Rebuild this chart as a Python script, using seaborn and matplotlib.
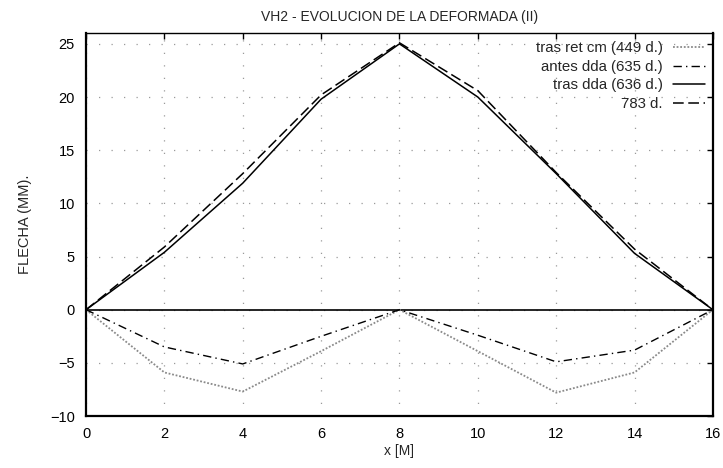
import matplotlib
matplotlib.use("Agg")
import matplotlib.pyplot as plt
import seaborn as sns
import pandas as pd

# Deflection along the beam (m) for each survey
x_m = [0, 2, 4, 6, 8, 10, 12, 14, 16]
tras_ret_cm = [0, -5.9, -7.7, -3.9, 0, -3.9, -7.8, -5.9, 0]
antes_dda = [0, -3.5, -5.1, -2.5, 0, -2.4, -4.9, -3.8, 0]
tras_dda = [0, 5.4, 11.9, 19.8, 25.0, 20.0, 12.8, 5.3, 0]
d783 = [0, 5.9, 12.8, 20.2, 25.1, 20.6, 12.9, 5.7, 0]

labels = ["tras ret cm (449 d.)", "antes dda (635 d.)", "tras dda (636 d.)", "783 d."]
x_ticks = [0, 2, 4, 6, 8, 10, 12, 14, 16]
y_ticks = [-10, -5, 0, 5, 10, 15, 20, 25]

sns.set_style("white")
plt.rcParams["font.family"] = ["Liberation Sans", "DejaVu Sans"]

fig = plt.figure(figsize=(7.23, 4.68), dpi=100)
ax = fig.add_axes([0.119, 0.111, 0.867, 0.818])

styles = [
    dict(color="#8a8a8a", linestyle=(0, (1, 1)), linewidth=1.3),
    dict(color="black", linestyle=(0, (6, 3, 1, 3)), linewidth=1.0),
    dict(color="black", linestyle="-", linewidth=1.1),
    dict(color="black", linestyle=(0, (7, 3)), linewidth=1.1),
]
series = [tras_ret_cm, antes_dda, tras_dda, d783]

ax.axhline(0, color="black", linewidth=1.2, zorder=1)
for vals, lab, st in zip(series, labels, styles):
    df = pd.DataFrame({"x": x_m, "y": vals})
    sns.lineplot(data=df, x="x", y="y", ax=ax, label=lab, **st)

ax.set_xlim(0, 16)
ax.set_ylim(-10, 26)
ax.set_xticks(x_ticks)
ax.set_yticks(y_ticks)
ax.tick_params(direction="in", length=4, width=1, top=True, right=True,
               labelsize=10.5, pad=8, colors="black")
ax.grid(True, color="#9a9a9a", linestyle=(0, (1, 9)), linewidth=0.9)

for side in ["left", "right", "bottom"]:
    ax.spines[side].set_linewidth(1.6)
    ax.spines[side].set_color("black")
ax.spines["top"].set_linewidth(1.0)
ax.spines["top"].set_color("black")

ax.set_title("VH2 - EVOLUCION DE LA DEFORMADA (II)", fontsize=10, pad=9)
ax.set_xlabel("x [M]", fontsize=10, labelpad=2)
ax.set_ylabel("FLECHA (MM).", fontsize=10.5, labelpad=13)

leg = ax.legend(loc="upper right", frameon=False, markerfirst=False,
                fontsize=10.8, handlelength=2.1, labelspacing=0.3,
                borderaxespad=0.15, handletextpad=0.7)
# right-align the label/handle rows inside each legend column
for column in leg._legend_handle_box.get_children():
    column.align = "right"

fig.savefig("out.png", dpi=100)
